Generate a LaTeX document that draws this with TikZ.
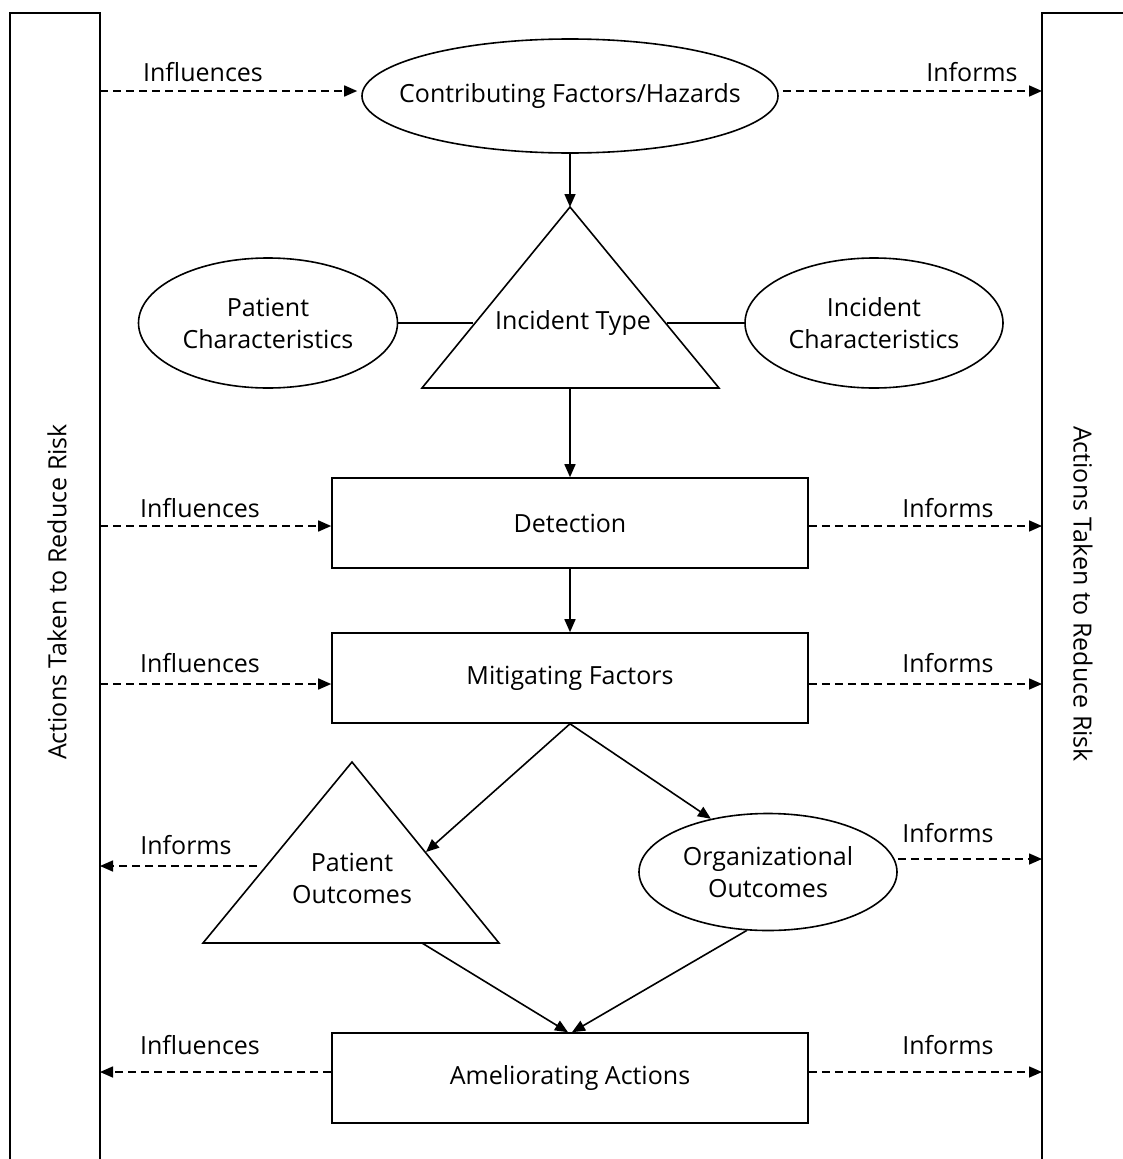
\documentclass[tikz,border=0pt]{standalone}
\usepackage{fontspec}
\setmainfont{Open Sans}
\usetikzlibrary{arrows.meta,shapes.geometric}
\begin{document}
\begin{tikzpicture}[x=1pt,y=-1pt,line width=1.6pt,
  txt/.style={font=\fontsize{25}{32}\selectfont, align=center, inner sep=0pt},
  lbl/.style={font=\fontsize{25}{32}\selectfont, inner sep=0pt, anchor=base},
  box/.style={draw, rectangle, minimum width=476pt, minimum height=90pt, txt},
  ell/.style={draw, ellipse, inner sep=0pt},
  arr/.style={-{Triangle[length=13pt,width=11pt]}},
  darr/.style={arr, dash pattern=on 8pt off 5pt},
]
\useasboundingbox (0,0) rectangle (1123,1159);
% side bars
\draw (10,1170) -- (10,13) -- (100,13) -- (100,1170);
\draw (1042,1170) -- (1042,13) -- (1130,13);
\node[txt, rotate=90] (lbar) at (57,592) {Actions Taken to Reduce Risk};
\node[txt, rotate=-90] (rbar) at (1083,594) {Actions Taken to Reduce Risk};

% main nodes
\node[ell, minimum width=416pt, minimum height=114pt] (cf) at (570,96) {};
\node[txt] (cft) at (cf.center) {Contributing Factors/Hazards};
\node[ell, minimum width=259pt, minimum height=130pt] (pc) at (268,323) {};
\node[txt] (pct) at (pc.center) {Patient\\Characteristics};
\node[ell, minimum width=258pt, minimum height=130pt] (ic) at (874,323) {};
\node[txt] (ict) at (ic.center) {Incident\\Characteristics};
\node[box] (det) at (570,523) {Detection};
\node[box] (mit) at (570,678) {Mitigating Factors};
\node[ell, minimum width=258pt, minimum height=117pt] (oo) at (768,872) {};
\node[txt] (oot) at (oo.center) {Organizational\\Outcomes};
\node[box] (am) at (570,1078) {Ameliorating Actions};

% Incident Type triangle
\coordinate (itA) at (570,207);
\coordinate (itL) at (422,388);
\coordinate (itR) at (719,388);
\draw[line join=miter] (itA) -- (itL) -- (itR) -- cycle;
\node[txt] (it) at (573,323) {Incident Type};
\coordinate (itLe) at (473,323);
\coordinate (itRe) at (667,323);
\coordinate (itB) at (570,388);

% Patient Outcomes triangle
\coordinate (poA) at (352,762);
\coordinate (poL) at (203,943);
\coordinate (poR) at (499,943);
\draw[line join=miter] (poA) -- (poL) -- (poR) -- cycle;
\node[txt] (po) at (352,878) {Patient\\Outcomes};
\coordinate (poLe) at (257,866);
\coordinate (poRe) at (426,852);
\coordinate (poB) at (422,943);

% vertical flow
\draw[arr] (cf.south) -- (itA);
\draw (pc.east) -- (itLe);
\draw (itRe) -- (ic.west);
\draw[arr] (itB) -- (det.north);
\draw[arr] (det.south) -- (mit.north);
\draw[arr] (mit.south) -- (poRe);
\draw[arr] (mit.south) -- (oo.137);
\draw[arr] (poB) -- ([xshift=-2pt]am.north);
\draw[arr] (oo.250) -- ([xshift=2pt]am.north);

% bar coordinates
\coordinate (l1) at (100,91);   \coordinate (r1) at (1042,91);
\coordinate (l2) at (100,526);  \coordinate (r2) at (1042,526);
\coordinate (l3) at (100,684);  \coordinate (r3) at (1042,684);
\coordinate (l4) at (100,866);  \coordinate (r4) at (1042,859);
\coordinate (l5) at (100,1072); \coordinate (r5) at (1042,1072);

% dashed links
\draw[darr] (l1) -- ([xshift=-4pt]cf.west |- l1);
\draw[darr] ([xshift=4pt]cf.east |- r1) -- (r1);
\draw[darr] (l2) -- (det.west |- l2);
\draw[darr] (det.east |- r2) -- (r2);
\draw[darr] (l3) -- (mit.west |- l3);
\draw[darr] (mit.east |- r3) -- (r3);
\draw[darr] (poLe) -- (l4);
\draw[darr] (oo.east |- r4) -- (r4);
\draw[darr] (am.west |- l5) -- (l5);
\draw[darr] (am.east |- r5) -- (r5);

% labels
\node[lbl] (t1) at (203,81) {Influences};
\node[lbl] (t2) at (972,81) {Informs};
\node[lbl] (t3) at (200,517) {Influences};
\node[lbl] (t4) at (948,517) {Informs};
\node[lbl] (t5) at (200,672) {Influences};
\node[lbl] (t6) at (948,672) {Informs};
\node[lbl] (t7) at (186,854) {Informs};
\node[lbl] (t8) at (948,842) {Informs};
\node[lbl] (t9) at (200,1054) {Influences};
\node[lbl] (t10) at (948,1054) {Informs};
\end{tikzpicture}
\end{document}
